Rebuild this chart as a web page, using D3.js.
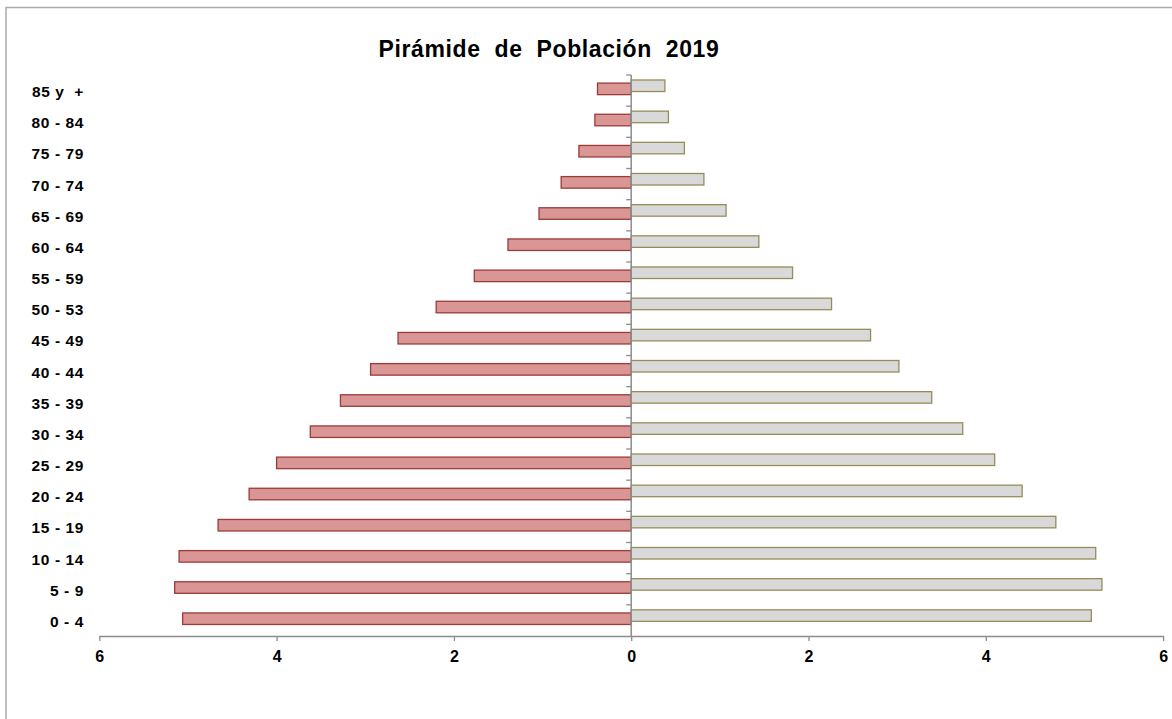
<!DOCTYPE html>
<html lang="es">
	<head>
		<meta charset="UTF-8" />
		<script src="https://d3js.org/d3.v7.min.js"></script>
		<title>Pirámide de Población 2019</title>
		<style>
			body { margin: 0; background: #fff; }
			text { font-family: "Liberation Sans", Arial, sans-serif; font-weight: bold; fill: #000; }
		</style>
	</head>
	<body>
		<svg width="1172" height="719"></svg>
		<script>
			// age groups, top to bottom
			const ageGroups = ["85 y  +", "80 - 84", "75 - 79", "70 - 74", "65 - 69", "60 - 64",
				"55 - 59", "50 - 53", "45 - 49", "40 - 44", "35 - 39", "30 - 34",
				"25 - 29", "20 - 24", "15 - 19", "10 - 14", "5 - 9", "0 - 4"];
			const hombres = [0.38, 0.41, 0.59, 0.79, 1.04, 1.39, 1.77, 2.20, 2.63, 2.94,
				3.28, 3.62, 4.00, 4.31, 4.66, 5.10, 5.15, 5.06];
			const mujeres = [0.38, 0.42, 0.60, 0.82, 1.07, 1.44, 1.82, 2.26, 2.70, 3.02,
				3.39, 3.74, 4.10, 4.41, 4.79, 5.24, 5.31, 5.19];
			const xTicks = [-6, -4, -2, 0, 2, 4, 6];
			const title = "Pirámide  de  Población  2019";

			const svg = d3.select("svg");

			// outer frame (right/bottom edges fall outside the picture)
			svg.append("rect")
				.attr("x", 6).attr("y", 7.5)
				.attr("width", 1300).attr("height", 900)
				.attr("fill", "none").attr("stroke", "#ababab").attr("stroke-width", 1.5);

			const x = d3.scaleLinear().domain([-6, 6]).range([99.3, 1163.1]);
			const y = d3.scaleBand().domain(ageGroups).range([75, 636]);
			const step = y.step();

			// bars
			svg.append("g").selectAll("rect")
				.data(ageGroups)
				.join("rect")
				.attr("x", (d, i) => x(-hombres[i]))
				.attr("y", d => y(d) + step * 0.26)
				.attr("width", (d, i) => x(0) - x(-hombres[i]))
				.attr("height", step * 0.37)
				.attr("fill", "#d99694")
				.attr("stroke", "#9b3b3a")
				.attr("stroke-width", 1.3);

			svg.append("g").selectAll("rect")
				.data(ageGroups)
				.join("rect")
				.attr("x", x(0))
				.attr("y", d => y(d) + step * 0.16)
				.attr("width", (d, i) => x(mujeres[i]) - x(0))
				.attr("height", step * 0.37)
				.attr("fill", "#d9d9d9")
				.attr("stroke", "#968c5a")
				.attr("stroke-width", 1.3);

			// bottom axis
			const xAxis = svg.append("g")
				.attr("transform", `translate(0,${y.range()[1]})`)
				.call(d3.axisBottom(x).tickValues(xTicks).tickFormat(d => Math.abs(d)).tickSize(5).tickSizeOuter(0).tickPadding(10));
			xAxis.select(".domain").attr("stroke", "#8c8c8c").attr("stroke-width", 1.5);
			xAxis.selectAll(".tick line").attr("stroke", "#8c8c8c").attr("stroke-width", 1.3);
			xAxis.selectAll("text").style("font-size", "16px").attr("font-family", null).attr("fill", null);

			// vertical axis at zero with ticks at the band edges
			const yAxis = svg.append("g");
			yAxis.append("line")
				.attr("x1", x(0)).attr("x2", x(0))
				.attr("y1", y.range()[0]).attr("y2", y.range()[1])
				.attr("stroke", "#8c8c8c").attr("stroke-width", 1.5);
			yAxis.selectAll("line.tk")
				.data(ageGroups)
				.join("line")
				.attr("class", "tk")
				.attr("x1", x(0) - 5).attr("x2", x(0))
				.attr("y1", d => y(d)).attr("y2", d => y(d))
				.attr("stroke", "#8c8c8c").attr("stroke-width", 1.3);

			// category labels
			svg.append("g").selectAll("text")
				.data(ageGroups)
				.join("text")
				.attr("x", 84)
				.attr("y", d => y(d) + step / 2 + 1)
				.attr("dy", "0.35em")
				.attr("text-anchor", "end")
				.style("font-size", "15.5px")
				.style("letter-spacing", "0.6px")
				.style("white-space", "pre")
				.text(d => d);

			svg.append("text")
				.attr("x", 549)
				.attr("y", 57)
				.attr("text-anchor", "middle")
				.style("font-size", "23px")
				.style("letter-spacing", "0.6px")
				.style("white-space", "pre")
				.text(title);
		</script>
	</body>
</html>
